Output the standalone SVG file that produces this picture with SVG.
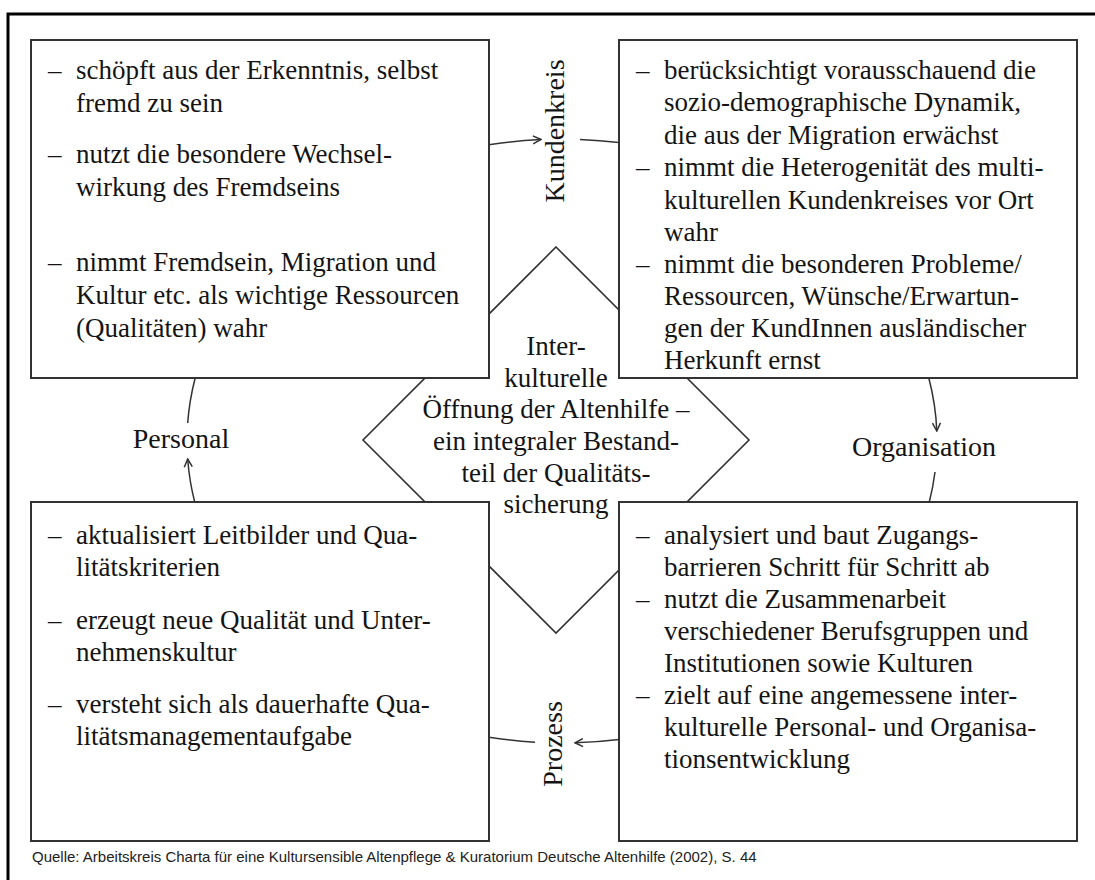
<svg xmlns="http://www.w3.org/2000/svg" width="1095" height="880" viewBox="0 0 1095 880">
<defs>
<style>
.frame{fill:none;stroke:#000;stroke-width:3}
.box{fill:#fff;stroke:#333;stroke-width:2}
.dia{fill:#fff;stroke:#333;stroke-width:1.6}
.t{font-family:"Liberation Serif","Times New Roman",serif;font-size:27px;fill:#141414}
.c{text-anchor:middle}
.lab{font-family:"Liberation Serif","Times New Roman",serif;font-size:28px;fill:#141414;text-anchor:middle}
.arc{fill:none;stroke:#333;stroke-width:1.5}
.src{font-family:"Liberation Sans",Arial,sans-serif;font-size:15px;fill:#222}
</style>
<marker id="ah" viewBox="0 0 10 10" refX="9" refY="5" markerWidth="10" markerHeight="10" markerUnits="userSpaceOnUse" orient="auto">
<path d="M1,1 L9,5 L1,9" fill="none" stroke="#333" stroke-width="1.5"/>
</marker>
</defs>
<rect width="1095" height="880" fill="#fff"/>
<rect class="frame" x="8" y="14" width="1100" height="880"/>

<g id="center">
<polygon class="dia" points="556,247 749,440 556,633 363,440"/>
</g>

<g id="box-tl">
<rect class="box" x="31" y="40" width="458" height="338"/>
<text class="t" x="48" y="79">–</text><text class="t" x="76" y="79">schöpft aus der Erkenntnis, selbst</text>
<text class="t" x="76" y="112">fremd zu sein</text>
<text class="t" x="48" y="163">–</text><text class="t" x="76" y="163">nutzt die besondere Wechsel-</text>
<text class="t" x="76" y="196">wirkung des Fremdseins</text>
<text class="t" x="48" y="271">–</text><text class="t" x="76" y="271">nimmt Fremdsein, Migration und</text>
<text class="t" x="76" y="304">Kultur etc. als wichtige Ressourcen</text>
<text class="t" x="76" y="337">(Qualitäten) wahr</text>
</g>

<g id="box-tr">
<rect class="box" x="619" y="40" width="458" height="338"/>
<text class="t" x="636" y="79">–</text><text class="t" x="664" y="79">berücksichtigt vorausschauend die</text>
<text class="t" x="664" y="111">sozio-demographische Dynamik,</text>
<text class="t" x="664" y="144">die aus der Migration erwächst</text>
<text class="t" x="636" y="176">–</text><text class="t" x="664" y="176">nimmt die Heterogenität des multi-</text>
<text class="t" x="664" y="209">kulturellen Kundenkreises vor Ort</text>
<text class="t" x="664" y="241">wahr</text>
<text class="t" x="636" y="273">–</text><text class="t" x="664" y="273">nimmt die besonderen Probleme/</text>
<text class="t" x="664" y="305">Ressourcen, Wünsche/Erwartun-</text>
<text class="t" x="664" y="337">gen der KundInnen ausländischer</text>
<text class="t" x="664" y="369">Herkunft ernst</text>
</g>

<g id="box-bl">
<rect class="box" x="31" y="502" width="458" height="339"/>
<text class="t" x="48" y="544">–</text><text class="t" x="76" y="544">aktualisiert Leitbilder und Qua-</text>
<text class="t" x="76" y="576">litätskriterien</text>
<text class="t" x="48" y="629">–</text><text class="t" x="76" y="629">erzeugt neue Qualität und Unter-</text>
<text class="t" x="76" y="661">nehmenskultur</text>
<text class="t" x="48" y="713">–</text><text class="t" x="76" y="713">versteht sich als dauerhafte Qua-</text>
<text class="t" x="76" y="745">litätsmanagementaufgabe</text>
</g>

<g id="box-br">
<rect class="box" x="619" y="502" width="458" height="339"/>
<text class="t" x="636" y="544">–</text><text class="t" x="664" y="544">analysiert und baut Zugangs-</text>
<text class="t" x="664" y="576">barrieren Schritt für Schritt ab</text>
<text class="t" x="636" y="608">–</text><text class="t" x="664" y="608">nutzt die Zusammenarbeit</text>
<text class="t" x="664" y="640">verschiedener Berufsgruppen und</text>
<text class="t" x="664" y="672">Institutionen sowie Kulturen</text>
<text class="t" x="636" y="704">–</text><text class="t" x="664" y="704">zielt auf eine angemessene inter-</text>
<text class="t" x="664" y="736">kulturelle Personal- und Organisa-</text>
<text class="t" x="664" y="768">tionsentwicklung</text>
</g>

<g id="center-text">
<text class="t c" x="556" y="355">Inter-</text>
<text class="t c" x="556" y="387">kulturelle</text>
<text class="t c" x="556" y="418">Öffnung der Altenhilfe –</text>
<text class="t c" x="556" y="450">ein integraler Bestand-</text>
<text class="t c" x="556" y="482">teil der Qualitäts-</text>
<text class="t c" x="556" y="513">sicherung</text>
</g>

<g id="connectors">
<path class="arc" d="M489,144.8 A375,302 0 0 1 541,139.5" marker-end="url(#ah)"/>
<path class="arc" d="M580,139.4 A375,302 0 0 1 619,142.5"/>
<path class="arc" d="M928.8,378 A375,302 0 0 1 936.8,431" marker-end="url(#ah)"/>
<path class="arc" d="M935,472 A375,302 0 0 1 929.3,502"/>
<path class="arc" d="M619,739.5 A375,302 0 0 1 575,742.8" marker-end="url(#ah)"/>
<path class="arc" d="M535,742.2 A375,302 0 0 1 489,737.2"/>
<path class="arc" d="M194.7,502 A375,302 0 0 1 187.7,459" marker-end="url(#ah)"/>
<path class="arc" d="M187.7,423 A375,302 0 0 1 195.2,378"/>
</g>

<g id="labels">
<text class="lab" transform="translate(564,131) rotate(-90)">Kundenkreis</text>
<text class="lab" x="924" y="456">Organisation</text>
<text class="lab" transform="translate(562,744) rotate(-90)">Prozess</text>
<text class="lab" x="181" y="448">Personal</text>
</g>

<text class="src" x="32" y="862">Quelle: Arbeitskreis Charta für eine Kultursensible Altenpflege &amp; Kuratorium Deutsche Altenhilfe (2002), S. 44</text>
</svg>
